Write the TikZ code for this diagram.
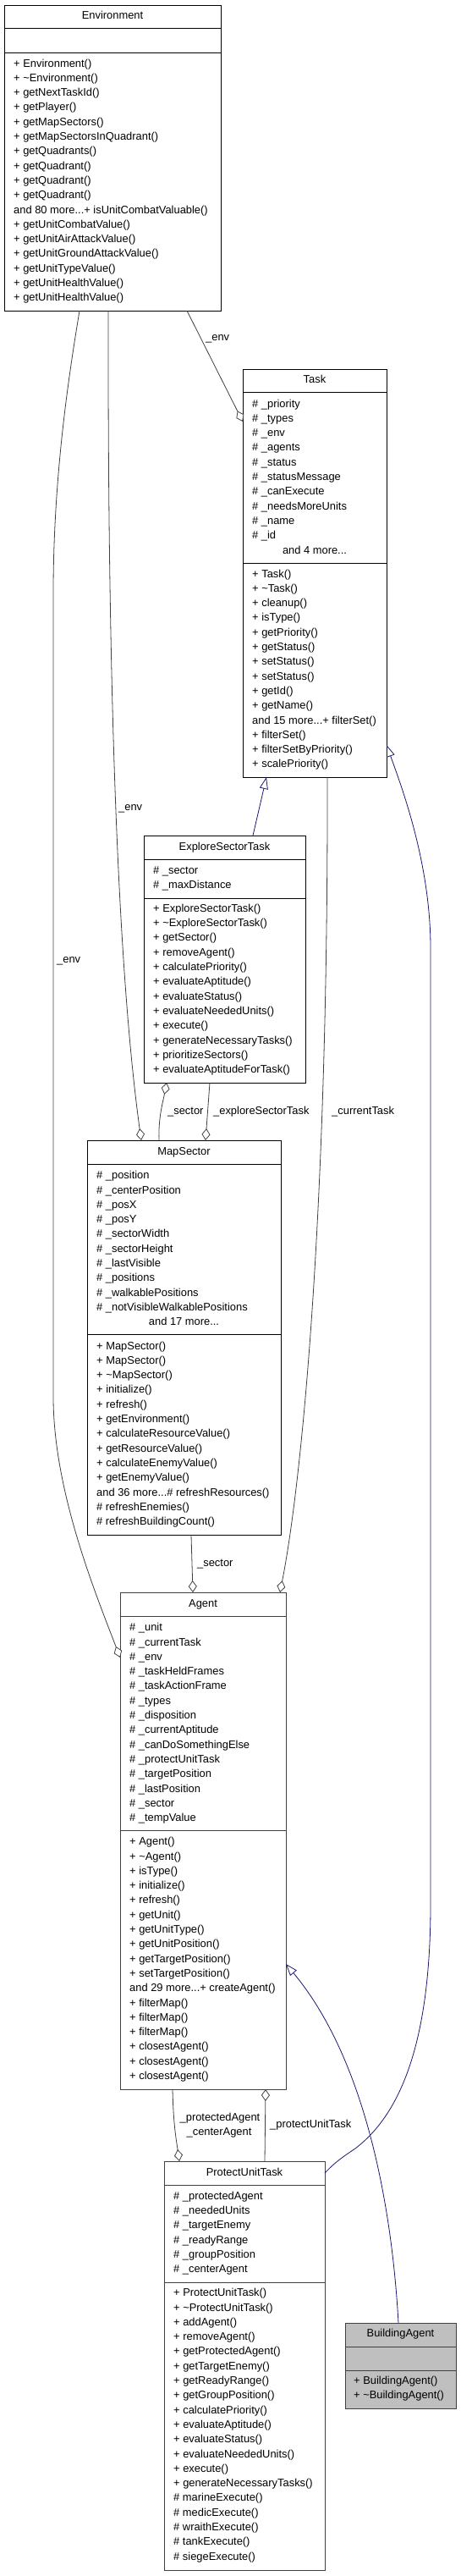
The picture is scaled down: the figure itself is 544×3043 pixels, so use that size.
\documentclass[tikz,border=0pt]{standalone}
\usepackage{fontspec}
\setmainfont{Liberation Sans}
\usetikzlibrary{arrows.meta,calc}
\definecolor{edgegray}{HTML}{404040}
\definecolor{genblue}{HTML}{191970}
\definecolor{focusfill}{HTML}{BFBFBF}
\newcommand\rowfont{\fontsize{12.9}{15}\selectfont}
\newcommand\ddd{...}
\newcommand\crows[4]{\foreach \t [count=\i from 0] in {#4} {\node[txt] (#1\i) at (#2,{#3+17.3*\i}) {\t};}}
\tikzset{
  classbox/.style={draw=black, line width=0.9pt, inner sep=0pt, outer sep=0pt, anchor=north west, fill=white},
  darkbox/.style={classbox, draw=edgegray},
  sepline/.style={line width=0.9pt},
  txt/.style={anchor=base west, inner sep=0pt, font=\rowfont},
  ctxt/.style={anchor=base, inner sep=0pt, font=\rowfont},
  lbl/.style={anchor=base west, inner sep=0pt, font=\rowfont},
  clbl/.style={anchor=base, inner sep=0pt, font=\rowfont},
  agg/.style={draw=edgegray, line width=0.8pt, -{Diamond[open, length=14pt, width=10pt, fill=white]}},
  gen/.style={draw=genblue, line width=0.8pt, -{Triangle[open, length=14pt, width=10pt, fill=white]}},
}
\begin{document}
\begin{tikzpicture}[x=1pt, y=-1pt]
\useasboundingbox (0,0) rectangle (544,3043);
% ---------- Environment
\node[classbox, minimum width=256pt, minimum height=361pt] (env) at (5,6) {};
\draw[sepline] (5,33) -- (261,33);
\draw[sepline] (5,62) -- (261,62);
\node[ctxt] (envt) at (133,22.5) {Environment};
\crows{envm}{16}{79}{+ Environment(), + \textasciitilde Environment(), + getNextTaskId(), + getPlayer(), + getMapSectors(), + getMapSectorsInQuadrant(), + getQuadrants(), + getQuadrant(), + getQuadrant(), + getQuadrant(), and 80 more\ddd+ isUnitCombatValuable(), + getUnitCombatValue(), + getUnitAirAttackValue(), + getUnitGroundAttackValue(), + getUnitTypeValue(), + getUnitHealthValue(), + getUnitHealthValue()}
% ---------- Task
\node[classbox, minimum width=170pt, minimum height=482pt] (task) at (287,436) {};
\draw[sepline] (287,463) -- (457,463);
\draw[sepline] (287,665) -- (457,665);
\node[ctxt] (taskt) at (372,452) {Task};
\crows{taska}{298}{481}{\# \_priority, \# \_types, \# \_env, \# \_agents, \# \_status, \# \_statusMessage, \# \_canExecute, \# \_needsMoreUnits, \# \_name, \# \_id}
\node[ctxt] (taskmore) at (372,654) {and 4 more\ddd};
\crows{taskm}{298}{682}{+ Task(), + \textasciitilde Task(), + cleanup(), + isType(), + getPriority(), + getStatus(), + setStatus(), + setStatus(), + getId(), + getName(), and 15 more\ddd+ filterSet(), + filterSet(), + filterSetByPriority(), + scalePriority()}
% ---------- ExploreSectorTask
\node[classbox, minimum width=191pt, minimum height=292pt] (explore) at (170,987) {};
\draw[sepline] (170,1015) -- (361,1015);
\draw[sepline] (170,1061) -- (361,1061);
\node[ctxt] (exploret) at (265.5,1004) {ExploreSectorTask};
\crows{explorea}{181}{1032}{\# \_sector, \# \_maxDistance}
\crows{explorem}{181}{1077.3}{+ ExploreSectorTask(), + \textasciitilde ExploreSectorTask(), + getSector(), + removeAgent(), + calculatePriority(), + evaluateAptitude(), + evaluateStatus(), + evaluateNeededUnits(), + execute(), + generateNecessaryTasks(), + prioritizeSectors(), + evaluateAptitudeForTask()}
% ---------- MapSector
\node[classbox, minimum width=229pt, minimum height=466pt] (map) at (103,1347) {};
\draw[sepline] (103,1375) -- (332,1375);
\draw[sepline] (103,1576) -- (332,1576);
\node[ctxt] (mapt) at (217.5,1364.5) {MapSector};
\crows{mapa}{114}{1392.7}{\# \_position, \# \_centerPosition, \# \_posX, \# \_posY, \# \_sectorWidth, \# \_sectorHeight, \# \_lastVisible, \# \_positions, \# \_walkablePositions, \# \_notVisibleWalkablePositions}
\node[ctxt] (mapmore) at (217.5,1565.7) {and 17 more\ddd};
\crows{mapm}{114}{1594}{+ MapSector(), + MapSector(), + \textasciitilde MapSector(), + initialize(), + refresh(), + getEnvironment(), + calculateResourceValue(), + getResourceValue(), + calculateEnemyValue(), + getEnemyValue(), and 36 more\ddd\# refreshResources(), \# refreshEnemies(), \# refreshBuildingCount()}
% ---------- Agent
\node[darkbox, minimum width=196pt, minimum height=587pt] (agent) at (142,1881) {};
\draw[sepline, edgegray] (142,1909) -- (338,1909);
\draw[sepline, edgegray] (142,2162) -- (338,2162);
\node[ctxt] (agentt) at (240,1898.5) {Agent};
\crows{agenta}{153}{1926.7}{\# \_unit, \# \_currentTask, \# \_env, \# \_taskHeldFrames, \# \_taskActionFrame, \# \_types, \# \_disposition, \# \_currentAptitude, \# \_canDoSomethingElse, \# \_protectUnitTask, \# \_targetPosition, \# \_lastPosition, \# \_sector, \# \_tempValue}
\crows{agentm}{153}{2179.7}{+ Agent(), + \textasciitilde Agent(), + isType(), + initialize(), + refresh(), + getUnit(), + getUnitType(), + getUnitPosition(), + getTargetPosition(), + setTargetPosition(), and 29 more\ddd+ createAgent(), + filterMap(), + filterMap(), + filterMap(), + closestAgent(), + closestAgent(), + closestAgent()}
% ---------- ProtectUnitTask
\node[darkbox, minimum width=190pt, minimum height=483pt] (protect) at (194,2553) {};
\draw[sepline, edgegray] (194,2581) -- (384,2581);
\draw[sepline, edgegray] (194,2696) -- (384,2696);
\node[ctxt] (protectt) at (289,2570) {ProtectUnitTask};
\crows{protecta}{205}{2598.3}{\# \_protectedAgent, \# \_neededUnits, \# \_targetEnemy, \# \_readyRange, \# \_groupPosition, \# \_centerAgent}
\crows{protectm}{205}{2712.7}{+ ProtectUnitTask(), + \textasciitilde ProtectUnitTask(), + addAgent(), + removeAgent(), + getProtectedAgent(), + getTargetEnemy(), + getReadyRange(), + getGroupPosition(), + calculatePriority(), + evaluateAptitude(), + evaluateStatus(), + evaluateNeededUnits(), + execute(), + generateNecessaryTasks(), \# marineExecute(), \# medicExecute(), \# wraithExecute(), \# tankExecute(), \# siegeExecute()}
% ---------- BuildingAgent
\node[darkbox, fill=focusfill, minimum width=131pt, minimum height=101pt] (building) at (408,2744) {};
\draw[sepline, edgegray] (408,2772) -- (539,2772);
\draw[sepline, edgegray] (408,2800) -- (539,2800);
\node[ctxt] (buildingt) at (473.5,2760.5) {BuildingAgent};
\crows{buildingm}{418}{2816.3}{+ BuildingAgent(), + \textasciitilde BuildingAgent()}
% ---------- connectors
\draw[agg] ($(env.south west)+(216,0)$) -- ($(task.north west)+(0,62)$);
\draw[agg] ($(env.south west)+(123,0)$) .. controls (127,950) and (148,1210) .. ($(map.north west)+(64,0)$);
\draw[agg] ($(env.south west)+(89,0)$) .. controls (82,440) and (63,560) .. (63,700) -- (63,1650) .. controls (63,1760) and (112,1880) .. ($(agent.north west)+(0,77)$);
\draw[agg] ($(task.south west)+(100,0)$) .. controls (388,1450) and (355,1760) .. ($(agent.north west)+(189,0)$);
\draw[gen] ($(explore.north west)+(129,0)$) -- ($(task.south west)+(28,0)$);
\draw[agg] ($(map.north west)+(85,0)$) .. controls (187,1320) and (193,1300) .. ($(explore.south west)+(27,0)$);
\draw[agg] ($(explore.south west)+(78,0)$) -- ($(map.north west)+(140,0)$);
\draw[agg] ($(map.south west)+(123,0)$) -- ($(agent.north west)+(86,0)$);
\draw[agg] ($(agent.south west)+(62,0)$) .. controls (205,2510) and (208,2525) .. ($(protect.north west)+(18,0)$);
\draw[agg] ($(protect.north west)+(119,0)$) -- ($(agent.south west)+(172,0)$);
\draw[gen] ($(protect.north east)+(0,14)$) .. controls (395,2555) and (405,2548) .. (420,2538) .. controls (470,2500) and (509,2420) .. (509,2250) -- (509,1120) .. controls (509,1020) and (475,930) .. ($(task.north east)+(0,444)$);
\draw[gen] ($(building.north west)+(63,0)$) .. controls (463,2600) and (430,2430) .. ($(agent.north east)+(0,439)$);
% ---------- connector labels
\node[lbl] (l1) at (243,402) {\_env};
\node[lbl] (l2) at (140,957) {\_env};
\node[lbl] (l3) at (67,1137) {\_env};
\node[lbl] (l4) at (198,1316) {\_sector};
\node[lbl] (l5) at (252,1316) {\_exploreSectorTask};
\node[lbl] (l6) at (392,1316) {\_currentTask};
\node[lbl] (l7) at (233,1850) {\_sector};
\node[clbl] (l8) at (260,2505) {\_protectedAgent};
\node[clbl] (l9) at (259,2522) {\_centerAgent};
\node[lbl] (l10) at (319,2513) {\_protectUnitTask};
\end{tikzpicture}
\end{document}
